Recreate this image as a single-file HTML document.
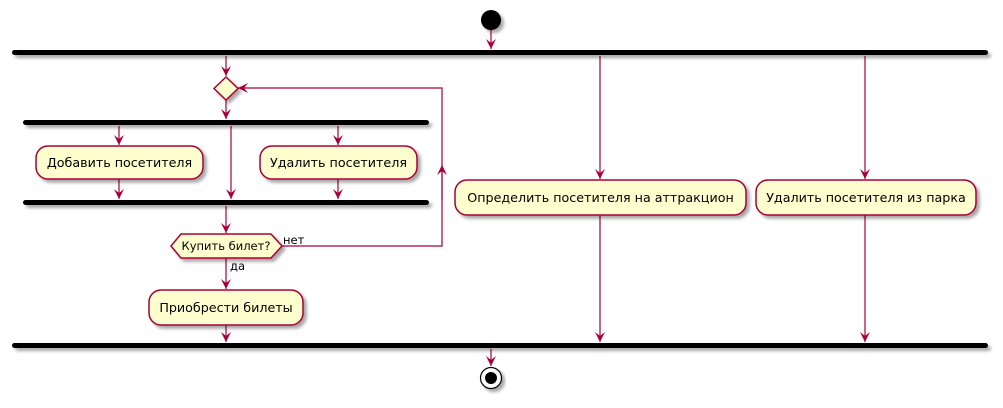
<!DOCTYPE html>
<html><head><meta charset="utf-8"><style>
html,body{margin:0;padding:0;background:#fff;}
svg{display:block;}
text{font-family:"DejaVu Sans","Liberation Sans",sans-serif;font-size:12.7px;fill:#000;}
</style></head><body>
<svg width="1003" height="408" viewBox="0 0 1003 408" xmlns="http://www.w3.org/2000/svg">
<defs>
<filter id="sh" x="-10%" y="-30%" width="130%" height="180%"><feGaussianBlur in="SourceAlpha" stdDeviation="1.5"/><feOffset dx="3" dy="3"/><feComponentTransfer><feFuncA type="linear" slope="0.35"/></feComponentTransfer><feMerge><feMergeNode/><feMergeNode in="SourceGraphic"/></feMerge></filter>
<marker id="ar" viewBox="0 0 12 12" refX="10" refY="6" markerWidth="12" markerHeight="12" markerUnits="userSpaceOnUse" orient="auto"><path d="M0,1 L10,6 L0,11 L4,6 Z" fill="#A80036"/></marker>
</defs>
<g stroke="#A80036" stroke-width="1.2" fill="none">
<line x1="491" y1="30" x2="491" y2="49" marker-end="url(#ar)"/>
<line x1="226" y1="56" x2="226" y2="76" marker-end="url(#ar)"/>
<line x1="226" y1="100" x2="226" y2="119" marker-end="url(#ar)"/>
<line x1="119" y1="126" x2="119" y2="145" marker-end="url(#ar)"/>
<line x1="231" y1="126" x2="231" y2="199" marker-end="url(#ar)"/>
<line x1="338" y1="126" x2="338" y2="145" marker-end="url(#ar)"/>
<line x1="119" y1="179" x2="119" y2="199" marker-end="url(#ar)"/>
<line x1="338" y1="179" x2="338" y2="199" marker-end="url(#ar)"/>
<line x1="226" y1="206" x2="226" y2="233" marker-end="url(#ar)"/>
<line x1="226" y1="258" x2="226" y2="289" marker-end="url(#ar)"/>
<line x1="226" y1="325" x2="226" y2="342" marker-end="url(#ar)"/>
<polyline points="282,246 442,246 442,88 239,88"/>
<line x1="442" y1="200" x2="442" y2="165" marker-end="url(#ar)"/>
<line x1="239" y1="88" x2="238" y2="88" marker-end="url(#ar)"/>
<line x1="600" y1="56" x2="600" y2="179" marker-end="url(#ar)"/>
<line x1="600" y1="215" x2="600" y2="342" marker-end="url(#ar)"/>
<line x1="865" y1="56" x2="865" y2="179" marker-end="url(#ar)"/>
<line x1="865" y1="215" x2="865" y2="342" marker-end="url(#ar)"/>
<line x1="491" y1="349" x2="491" y2="366" marker-end="url(#ar)"/>
</g>
<g fill="#000" filter="url(#sh)">
<circle cx="491" cy="20" r="10"/>
<rect x="12" y="50" width="976" height="5" rx="2.5"/>
<rect x="23" y="120" width="406" height="5" rx="2.5"/>
<rect x="23" y="200" width="406" height="5" rx="2.5"/>
<rect x="12" y="343" width="976" height="5" rx="2.5"/>
</g>
<g fill="#FEFECE" stroke="#A80036" stroke-width="1.5" filter="url(#sh)">
<polygon points="226,77 238,88.5 226,100 214,88.5"/>
<rect x="36" y="146" width="167" height="33" rx="12"/>
<rect x="260" y="146" width="157" height="33" rx="12"/>
<polygon points="171,246 181,234 271,234 282,246 271,258 181,258"/>
<rect x="149" y="290" width="154" height="35" rx="12"/>
<rect x="455" y="180" width="291" height="35" rx="12"/>
<rect x="756" y="180" width="220" height="35" rx="12"/>
</g>
<g filter="url(#sh)"><circle cx="491" cy="378" r="10.5" fill="#fff" stroke="#000" stroke-width="1.2"/></g>
<circle cx="491" cy="378" r="6" fill="#000"/>
<g text-anchor="middle">
<text x="119.5" y="167">Добавить посетителя</text>
<text x="338.5" y="167">Удалить посетителя</text>
<text x="226" y="250" style="font-size:11.5px">Купить билет?</text>
<text x="226" y="312">Приобрести билеты</text>
<text x="600.5" y="202">Определить посетителя на аттракцион</text>
<text x="866" y="202">Удалить посетителя из парка</text>
</g>
<text x="283" y="244" style="font-size:11.5px">нет</text>
<text x="230" y="270" style="font-size:11.5px">да</text>
</svg>
</body></html>
